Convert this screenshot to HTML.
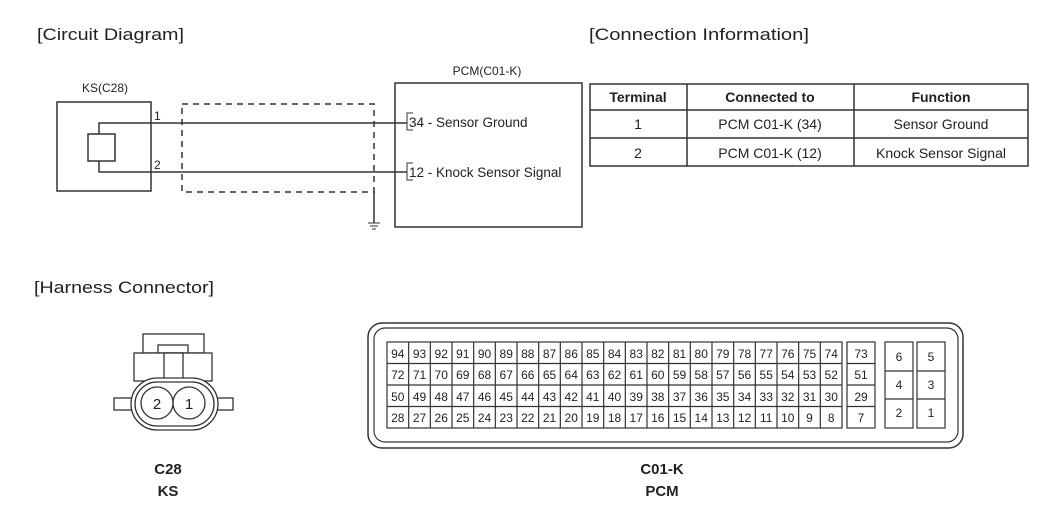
<!DOCTYPE html>
<html><head><meta charset="utf-8"><style>
html,body{margin:0;padding:0;background:#fff;width:1050px;height:517px;overflow:hidden}
svg{display:block}
text{font-family:"Liberation Sans",Arial,sans-serif;fill:#222}
</style></head><body>
<svg width="1050" height="517" viewBox="0 0 1050 517" xmlns="http://www.w3.org/2000/svg">
<g font-size="17">
<text x="37" y="40" textLength="147" lengthAdjust="spacingAndGlyphs">[Circuit Diagram]</text>
<text x="589" y="40" textLength="220" lengthAdjust="spacingAndGlyphs">[Connection Information]</text>
<text x="34" y="293" textLength="180" lengthAdjust="spacingAndGlyphs">[Harness Connector]</text>
</g>
<!-- circuit -->
<g stroke="#333" fill="none" stroke-width="1.5">
<rect x="57" y="102" width="94" height="89"/>
<rect x="88" y="134" width="27" height="27"/>
<polyline points="99,134 99,123 407,123"/>
<polyline points="99,161 99,172 407,172"/>
<rect x="182" y="104" width="192" height="88" stroke-dasharray="6,5"/>
<line x1="374" y1="192" x2="374" y2="223"/>
<line x1="368" y1="223" x2="380" y2="223" stroke-width="1"/>
<line x1="370" y1="226" x2="378" y2="226" stroke-width="1"/>
<line x1="372" y1="229" x2="376" y2="229" stroke-width="1"/>
<rect x="395" y="83" width="187" height="144"/>
<polyline points="413,113 407,113 407,130 413,130" stroke-width="1"/>
<polyline points="413,163 407,163 407,180 413,180" stroke-width="1"/>
</g>
<g font-size="12">
<text x="105" y="92" text-anchor="middle">KS(C28)</text>
<text x="487" y="75" text-anchor="middle">PCM(C01-K)</text>
<text x="154" y="120">1</text>
<text x="154" y="169">2</text>
</g>
<g font-size="13.5">
<text x="409" y="127">34 - Sensor Ground</text>
<text x="409" y="177">12 - Knock Sensor Signal</text>
</g>
<!-- table -->
<g stroke="#333" fill="none" stroke-width="1.5">
<rect x="590" y="84" width="438" height="82"/>
<line x1="590" y1="110" x2="1028" y2="110"/>
<line x1="590" y1="138" x2="1028" y2="138"/>
<line x1="687" y1="84" x2="687" y2="166"/>
<line x1="854" y1="84" x2="854" y2="166"/>
</g>
<g font-size="14" text-anchor="middle">
<text x="638" y="102" font-weight="bold">Terminal</text>
<text x="770" y="102" font-weight="bold">Connected to</text>
<text x="941" y="102" font-weight="bold">Function</text>
<text x="638" y="129">1</text>
<text x="770" y="129">PCM C01-K (34)</text>
<text x="941" y="129">Sensor Ground</text>
<text x="638" y="158">2</text>
<text x="770" y="158">PCM C01-K (12)</text>
<text x="941" y="158">Knock Sensor Signal</text>
</g>
<!-- KS connector -->
<g stroke="#333" fill="#fff" stroke-width="1.3">
<rect x="143" y="334" width="61" height="19"/>
<rect x="158" y="345" width="30" height="8"/>
<rect x="134" y="353" width="78" height="28"/>
<rect x="164" y="353" width="19" height="28"/>
<rect x="114" y="398" width="20" height="12"/>
<rect x="213" y="398" width="20" height="12"/>
<rect x="131" y="378" width="87" height="52" rx="26"/>
<rect x="135" y="382" width="79" height="44" rx="22"/>
<circle cx="157" cy="403" r="16"/>
<circle cx="189" cy="403" r="16"/>
</g>
<g font-size="15" text-anchor="middle">
<text x="157" y="409">2</text>
<text x="189" y="409">1</text>
</g>
<!-- PCM connector -->
<g stroke="#333" fill="none">
<rect x="368" y="323" width="595" height="125" rx="14" stroke-width="1.5"/>
<rect x="374" y="328" width="584" height="114" rx="11" stroke-width="1.2"/>
<g stroke-width="1.2">
<rect x="387" y="342" width="455" height="86"/>
<line x1="387" y1="363.5" x2="842" y2="363.5"/>
<line x1="387" y1="385" x2="842" y2="385"/>
<line x1="387" y1="406.5" x2="842" y2="406.5"/>
<rect x="847" y="342" width="28" height="86"/>
<line x1="847" y1="363.5" x2="875" y2="363.5"/>
<line x1="847" y1="385" x2="875" y2="385"/>
<line x1="847" y1="406.5" x2="875" y2="406.5"/>
<rect x="885" y="342" width="28" height="86"/>
<line x1="885" y1="371" x2="913" y2="371"/><line x1="885" y1="399" x2="913" y2="399"/>
<rect x="917" y="342" width="28" height="86"/>
<line x1="917" y1="371" x2="945" y2="371"/><line x1="917" y1="399" x2="945" y2="399"/>
<path d="M408.67 342V428M430.33 342V428M452 342V428M473.67 342V428M495.33 342V428M517 342V428M538.67 342V428M560.33 342V428M582 342V428M603.67 342V428M625.33 342V428M647 342V428M668.67 342V428M690.33 342V428M712 342V428M733.67 342V428M755.33 342V428M777 342V428M798.67 342V428M820.33 342V428"/>
</g>
</g>
<g font-size="12" text-anchor="middle" id="nums"></g>
<g font-size="12" text-anchor="middle">
<text x="861" y="358">73</text><text x="861" y="379">51</text><text x="861" y="401">29</text><text x="861" y="422">7</text>
<text x="899" y="361">6</text><text x="899" y="389">4</text><text x="899" y="417">2</text>
<text x="931" y="361">5</text><text x="931" y="389">3</text><text x="931" y="417">1</text>
<text x="397.8" y="358">94</text><text x="419.5" y="358">93</text><text x="441.2" y="358">92</text><text x="462.8" y="358">91</text><text x="484.5" y="358">90</text><text x="506.2" y="358">89</text><text x="527.8" y="358">88</text><text x="549.5" y="358">87</text><text x="571.2" y="358">86</text><text x="592.8" y="358">85</text><text x="614.5" y="358">84</text><text x="636.2" y="358">83</text><text x="657.8" y="358">82</text><text x="679.5" y="358">81</text><text x="701.2" y="358">80</text><text x="722.8" y="358">79</text><text x="744.5" y="358">78</text><text x="766.2" y="358">77</text><text x="787.8" y="358">76</text><text x="809.5" y="358">75</text><text x="831.2" y="358">74</text>
<text x="397.8" y="379">72</text><text x="419.5" y="379">71</text><text x="441.2" y="379">70</text><text x="462.8" y="379">69</text><text x="484.5" y="379">68</text><text x="506.2" y="379">67</text><text x="527.8" y="379">66</text><text x="549.5" y="379">65</text><text x="571.2" y="379">64</text><text x="592.8" y="379">63</text><text x="614.5" y="379">62</text><text x="636.2" y="379">61</text><text x="657.8" y="379">60</text><text x="679.5" y="379">59</text><text x="701.2" y="379">58</text><text x="722.8" y="379">57</text><text x="744.5" y="379">56</text><text x="766.2" y="379">55</text><text x="787.8" y="379">54</text><text x="809.5" y="379">53</text><text x="831.2" y="379">52</text>
<text x="397.8" y="401">50</text><text x="419.5" y="401">49</text><text x="441.2" y="401">48</text><text x="462.8" y="401">47</text><text x="484.5" y="401">46</text><text x="506.2" y="401">45</text><text x="527.8" y="401">44</text><text x="549.5" y="401">43</text><text x="571.2" y="401">42</text><text x="592.8" y="401">41</text><text x="614.5" y="401">40</text><text x="636.2" y="401">39</text><text x="657.8" y="401">38</text><text x="679.5" y="401">37</text><text x="701.2" y="401">36</text><text x="722.8" y="401">35</text><text x="744.5" y="401">34</text><text x="766.2" y="401">33</text><text x="787.8" y="401">32</text><text x="809.5" y="401">31</text><text x="831.2" y="401">30</text>
<text x="397.8" y="422">28</text><text x="419.5" y="422">27</text><text x="441.2" y="422">26</text><text x="462.8" y="422">25</text><text x="484.5" y="422">24</text><text x="506.2" y="422">23</text><text x="527.8" y="422">22</text><text x="549.5" y="422">21</text><text x="571.2" y="422">20</text><text x="592.8" y="422">19</text><text x="614.5" y="422">18</text><text x="636.2" y="422">17</text><text x="657.8" y="422">16</text><text x="679.5" y="422">15</text><text x="701.2" y="422">14</text><text x="722.8" y="422">13</text><text x="744.5" y="422">12</text><text x="766.2" y="422">11</text><text x="787.8" y="422">10</text><text x="809.5" y="422">9</text><text x="831.2" y="422">8</text>
</g>
<g font-size="15" font-weight="bold" text-anchor="middle">
<text x="168" y="474">C28</text><text x="168" y="496">KS</text>
<text x="662" y="474">C01-K</text><text x="662" y="496">PCM</text>
</g>
</svg>
</body></html>
